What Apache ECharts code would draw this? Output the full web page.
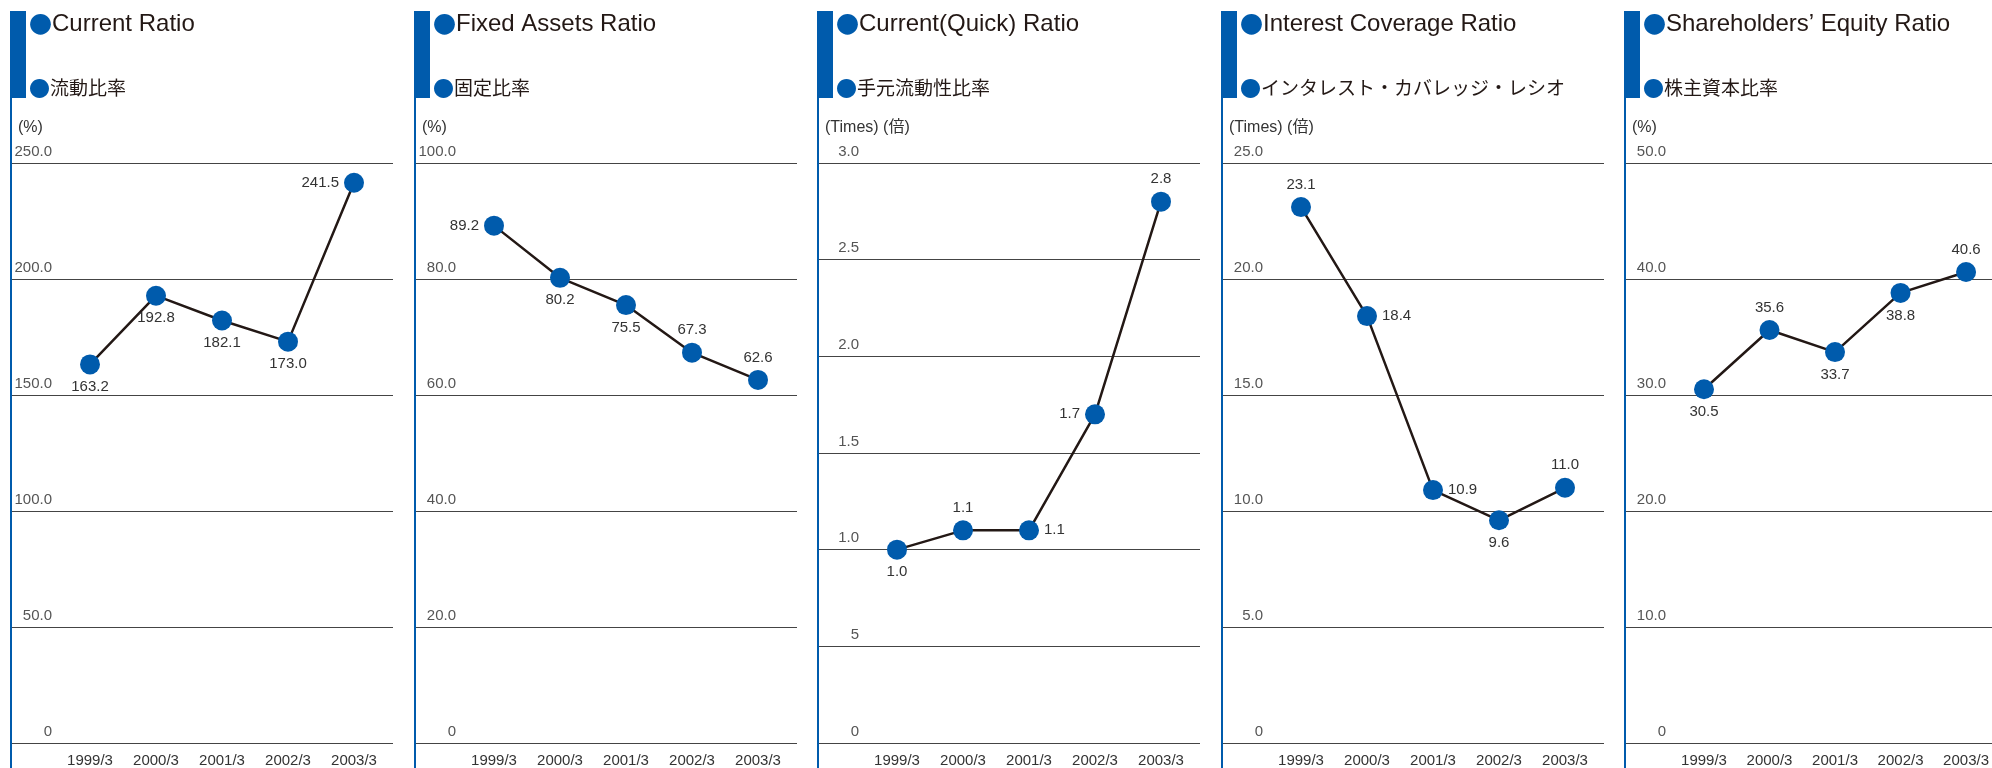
<!DOCTYPE html>
<html>
<head>
<meta charset="utf-8">
<script src="https://cdn.jsdelivr.net/npm/echarts@6/dist/echarts.min.js"></script>
<style>
html, body { margin: 0; padding: 0; background: #fff; }
#chart { width: 1992px; height: 768px; }
</style>
</head>
<body>
<div id="chart"></div>
<script>
const years = ['1999/3', '2000/3', '2001/3', '2002/3', '2003/3']

const currentRatio = [163.2, 192.8, 182.1, 173.0, 241.5]
const fixedAssetsRatio = [89.2, 80.2, 75.5, 67.3, 62.6]
const quickRatio = [1.0, 1.1, 1.1, 1.7, 2.8]
const interestCoverage = [23.1, 18.4, 10.9, 9.6, 11.0]
const equityRatio = [30.5, 35.6, 33.7, 38.8, 40.6]

// y tick labels, from 0 upwards (the quick ratio chart really prints "5" for 0.5)
const currentTicks = ['0', '50.0', '100.0', '150.0', '200.0', '250.0']
const fixedTicks = ['0', '20.0', '40.0', '60.0', '80.0', '100.0']
const quickTicks = ['0', '5', '1.0', '1.5', '2.0', '2.5', '3.0']
const interestTicks = ['0', '5.0', '10.0', '15.0', '20.0', '25.0']
const equityTicks = ['0', '10.0', '20.0', '30.0', '40.0', '50.0']

// where each value label sits round its point
const currentPos = ['bottom', 'bottom', 'bottom', 'bottom', 'left']
const fixedPos = ['left', 'bottom', 'bottom', 'top', 'top']
const quickPos = ['bottom', 'top', 'right', 'left', 'top']
const interestPos = ['top', 'right', 'right', 'bottom', 'top']
const equityPos = ['bottom', 'top', 'bottom', 'bottom', 'top']

const BLUE = '#005bac'
const INK = '#231815'
const FONT = '"Liberation Sans", sans-serif'

const panels = [
  {title: 'Current Ratio', sub: '流動比率', unit: '(%)', data: currentRatio, ticks: currentTicks, pos: currentPos, max: 250, interval: 50},
  {title: 'Fixed Assets Ratio', sub: '固定比率', unit: '(%)', data: fixedAssetsRatio, ticks: fixedTicks, pos: fixedPos, max: 100, interval: 20},
  {title: 'Current(Quick) Ratio', sub: '手元流動性比率', unit: '(Times) (倍)', data: quickRatio, ticks: quickTicks, pos: quickPos, max: 3, interval: 0.5},
  {title: 'Interest Coverage Ratio', sub: 'インタレスト・カバレッジ・レシオ', unit: '(Times) (倍)', data: interestCoverage, ticks: interestTicks, pos: interestPos, max: 25, interval: 5},
  {title: 'Shareholders’ Equity Ratio', sub: '株主資本比率', unit: '(%)', data: equityRatio, ticks: equityTicks, pos: equityPos, max: 50, interval: 10},
]

let option = {
  animation: false,
  backgroundColor: '#fff',
  title: [],
  grid: [],
  xAxis: [],
  yAxis: [],
  series: [],
  graphic: []
}

panels.forEach((p, i) => {
  const L = Math.round(10 + 403.5 * i)

  // blue side rule and heading bar
  option.graphic.push({type: 'rect', shape: {x: L, y: 11, width: 2, height: 757}, style: {fill: BLUE}})
  option.graphic.push({type: 'rect', shape: {x: L, y: 11, width: 16, height: 87}, style: {fill: BLUE}})

  option.title.push({
    left: L + 19, top: 11, padding: 0,
    text: '{b|●}{t|' + p.title + '}',
    textStyle: {
      rich: {
        b: {color: BLUE, fontSize: 23, lineHeight: 26, fontWeight: 'normal', fontFamily: 'Noto Sans CJK JP'},
        t: {color: INK, fontSize: 24, lineHeight: 26, fontWeight: 'normal', fontFamily: 'Liberation Sans'}
      }
    }
  })
  option.title.push({
    left: L + 19, top: 78, padding: 0,
    text: '{b|●}{t|' + p.sub + '}',
    textStyle: {
      rich: {
        b: {color: BLUE, fontSize: 21, lineHeight: 20, fontWeight: 'normal', fontFamily: 'Noto Sans CJK JP'},
        t: {color: INK, fontSize: 19, lineHeight: 20, fontWeight: 'normal', fontFamily: 'Noto Sans CJK JP'}
      }
    }
  })

  // wide grid: split lines + tick labels
  option.grid.push({left: L + 2, top: 163, width: 381, height: 580})
  // narrow grid: the line itself
  option.grid.push({left: L + 80, top: 163, width: 264, height: 580})

  option.xAxis.push({gridIndex: 2 * i, type: 'category', data: years, show: false})
  option.xAxis.push({
    gridIndex: 2 * i + 1, type: 'category', data: years, boundaryGap: false,
    axisLine: {show: false}, axisTick: {show: false},
    axisLabel: {interval: 0, margin: 10, color: '#333', fontSize: 15, fontFamily: FONT}
  })

  option.yAxis.push({
    gridIndex: 2 * i, type: 'value', min: 0, max: p.max, interval: p.interval,
    name: p.unit, nameLocation: 'end', nameGap: 27,
    nameTextStyle: {align: 'left', padding: [0, 0, 0, 6], color: '#333', fontSize: 16, fontFamily: '"Liberation Sans", "Noto Sans CJK JP"'},
    axisLine: {show: false}, axisTick: {show: false},
    splitLine: {lineStyle: {color: '#444', width: 1}},
    axisLabel: {
      margin: -40, align: 'right', verticalAlign: 'bottom', padding: [0, 0, 4, 0],
      color: '#555', fontSize: 15, fontFamily: FONT,
      formatter: (v, idx) => p.ticks[idx]
    }
  })
  option.yAxis.push({gridIndex: 2 * i + 1, type: 'value', min: 0, max: p.max, interval: p.interval, show: false})

  option.series.push({
    type: 'line',
    xAxisIndex: 2 * i + 1,
    yAxisIndex: 2 * i + 1,
    data: p.data.map((v, k) => ({value: v, label: {position: p.pos[k]}})),
    symbol: 'circle',
    symbolSize: 20,
    itemStyle: {color: BLUE},
    lineStyle: {color: INK, width: 2.5},
    label: {
      show: true, distance: 5, color: '#333', fontSize: 15, fontFamily: FONT,
      formatter: (d) => d.value.toFixed(1)
    }
  })
})

let chart = echarts.init(document.getElementById('chart'))
chart.setOption(option)
</script>
</body>
</html>
